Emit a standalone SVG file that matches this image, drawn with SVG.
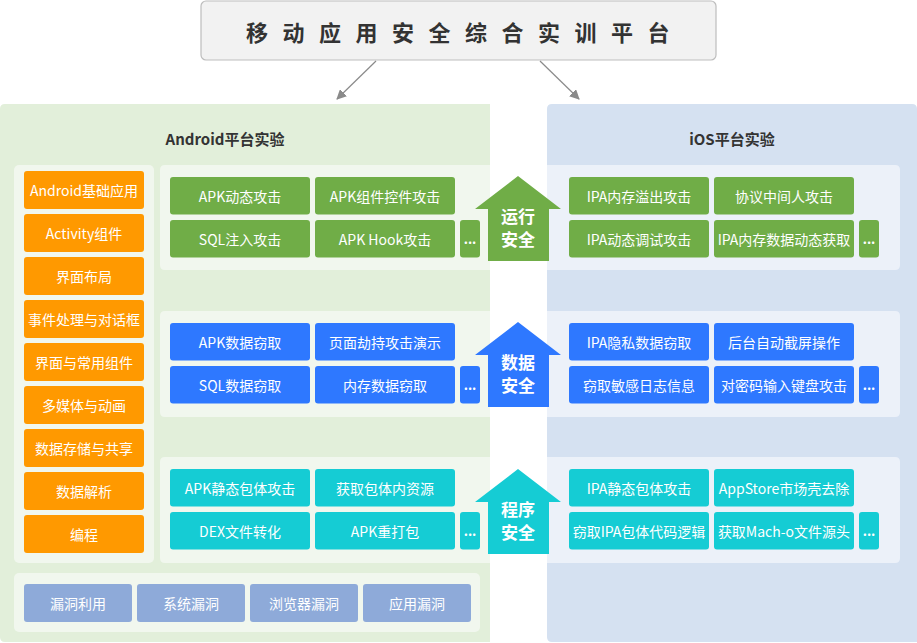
<svg xmlns="http://www.w3.org/2000/svg" width="917" height="643" viewBox="0 0 917 643">
<defs>
<marker id="ah" markerWidth="10" markerHeight="10" refX="9" refY="5" orient="auto" markerUnits="userSpaceOnUse">
<path d="M0,0 L10,5 L0,10 z" fill="#8a8a8a"/>
</marker>
<style>
text{font-family:"Microsoft YaHei","Noto Sans CJK SC","Noto Sans",sans-serif;}
.t{fill:#fff;font-size:14px;text-anchor:middle;dominant-baseline:central;}
.d{fill:#fff;font-size:13px;font-weight:bold;text-anchor:middle;}
.al{fill:#fff;font-size:17px;font-weight:bold;text-anchor:middle;dominant-baseline:central;}
.h{fill:#333;font-size:15px;font-weight:bold;text-anchor:middle;dominant-baseline:central;}
.or{fill:#ff9900;}
.gr{fill:#70ad47;}
.bl{fill:#2e78ff;}
.cy{fill:#15ccd4;}
.vu{fill:#8eaad9;}
.ain{fill:#f1f7ee;}
.iin{fill:#ecf1f9;}
</style>
</defs>
<rect width="917" height="643" fill="#fff"/>

<g id="title">
<rect x="201" y="1" width="515" height="59" rx="5" fill="#f2f2f2" stroke="#bdbdbd" stroke-width="1.2"/>
<text x="465" y="31" style="fill:#333;font-size:22px;font-weight:bold;text-anchor:middle;dominant-baseline:central;letter-spacing:14.5px">移动应用安全综合实训平台</text>
</g>

<g id="connectors" stroke="#8a8a8a" stroke-width="1.2" fill="none">
<line x1="376" y1="61" x2="337" y2="99" marker-end="url(#ah)"/>
<line x1="540" y1="61" x2="579" y2="99" marker-end="url(#ah)"/>
</g>

<g id="android">
<path d="M5,104 H490 V642 H5 Q0,642 0,637 V109 Q0,104 5,104 z" fill="#e2efda"/>
<text class="h" x="225" y="138">Android平台实验</text>
<rect class="ain" x="14" y="165" width="140" height="398" rx="5"/>
<path class="ain" d="M165,165 H490 V270 H165 Q160,270 160,265 V170 Q160,165 165,165 z"/>
<path class="ain" d="M165,311 H490 V417 H165 Q160,417 160,412 V316 Q160,311 165,311 z"/>
<path class="ain" d="M165,457 H490 V563 H165 Q160,563 160,558 V462 Q160,457 165,457 z"/>
<rect class="ain" x="14" y="573" width="466" height="59" rx="5"/>
</g>

<g id="ios">
<path d="M552,104 H912 Q917,104 917,109 V642 H552 Q547,642 547,637 V109 Q547,104 552,104 z" fill="#d5e1f1"/>
<text class="h" x="732" y="138">iOS平台实验</text>
<path class="iin" d="M547,165 H895 Q900,165 900,170 V265 Q900,270 895,270 H547 z"/>
<path class="iin" d="M547,311 H895 Q900,311 900,316 V412 Q900,417 895,417 H547 z"/>
<path class="iin" d="M547,457 H895 Q900,457 900,462 V558 Q900,563 895,563 H547 z"/>
</g>

<g id="basics">
<rect class="or" x="24" y="171" width="120" height="38" rx="3"/><text class="t" x="84" y="190">Android基础应用</text>
<rect class="or" x="24" y="214" width="120" height="38" rx="3"/><text class="t" x="84" y="233">Activity组件</text>
<rect class="or" x="24" y="257" width="120" height="38" rx="3"/><text class="t" x="84" y="276">界面布局</text>
<rect class="or" x="24" y="300" width="120" height="38" rx="3"/><text class="t" x="84" y="319">事件处理与对话框</text>
<rect class="or" x="24" y="343" width="120" height="38" rx="3"/><text class="t" x="84" y="362">界面与常用组件</text>
<rect class="or" x="24" y="386" width="120" height="38" rx="3"/><text class="t" x="84" y="405">多媒体与动画</text>
<rect class="or" x="24" y="429" width="120" height="38" rx="3"/><text class="t" x="84" y="448">数据存储与共享</text>
<rect class="or" x="24" y="472" width="120" height="38" rx="3"/><text class="t" x="84" y="491">数据解析</text>
<rect class="or" x="24" y="515" width="120" height="38" rx="3"/><text class="t" x="84" y="534">编程</text>
</g>

<g id="vulns">
<rect class="vu" x="24" y="584" width="108" height="38" rx="3"/><text class="t" x="78" y="603">漏洞利用</text>
<rect class="vu" x="137" y="584" width="108" height="38" rx="3"/><text class="t" x="191" y="603">系统漏洞</text>
<rect class="vu" x="250" y="584" width="108" height="38" rx="3"/><text class="t" x="304" y="603">浏览器漏洞</text>
<rect class="vu" x="363" y="584" width="108" height="38" rx="3"/><text class="t" x="417" y="603">应用漏洞</text>
</g>

<g id="run-android">
<rect class="gr" x="170" y="177" width="140" height="37.5" rx="3"/><text class="t" x="240" y="196">APK动态攻击</text>
<rect class="gr" x="315" y="177" width="140" height="37.5" rx="3"/><text class="t" x="385" y="196">APK组件控件攻击</text>
<rect class="gr" x="170" y="220" width="140" height="37.5" rx="3"/><text class="t" x="240" y="239">SQL注入攻击</text>
<rect class="gr" x="315" y="220" width="140" height="37.5" rx="3"/><text class="t" x="385" y="239">APK Hook攻击</text>
<rect class="gr" x="460" y="220" width="20" height="37.5" rx="3"/><text class="d" x="470" y="244">...</text>
</g>
<g id="run-ios">
<rect class="gr" x="569" y="177" width="140" height="37.5" rx="3"/><text class="t" x="639" y="196">IPA内存溢出攻击</text>
<rect class="gr" x="714" y="177" width="140" height="37.5" rx="3"/><text class="t" x="784" y="196">协议中间人攻击</text>
<rect class="gr" x="569" y="220" width="140" height="37.5" rx="3"/><text class="t" x="639" y="239">IPA动态调试攻击</text>
<rect class="gr" x="714" y="220" width="140" height="37.5" rx="3"/><text class="t" x="784" y="239">IPA内存数据动态获取</text>
<rect class="gr" x="859" y="220" width="20" height="37.5" rx="3"/><text class="d" x="869" y="244">...</text>
</g>
<g id="run-arrow">
<path class="gr" d="M518,176 L561,209 H549 V261 H488 V209 H475 z"/>
<text class="al" x="518" y="215">运行</text>
<text class="al" x="518" y="238">安全</text>
</g>

<g id="data-android">
<rect class="bl" x="170" y="323" width="140" height="37.5" rx="3"/><text class="t" x="240" y="342">APK数据窃取</text>
<rect class="bl" x="315" y="323" width="140" height="37.5" rx="3"/><text class="t" x="385" y="342">页面劫持攻击演示</text>
<rect class="bl" x="170" y="366" width="140" height="37.5" rx="3"/><text class="t" x="240" y="385">SQL数据窃取</text>
<rect class="bl" x="315" y="366" width="140" height="37.5" rx="3"/><text class="t" x="385" y="385">内存数据窃取</text>
<rect class="bl" x="460" y="366" width="20" height="37.5" rx="3"/><text class="d" x="470" y="390">...</text>
</g>
<g id="data-ios">
<rect class="bl" x="569" y="323" width="140" height="37.5" rx="3"/><text class="t" x="639" y="342">IPA隐私数据窃取</text>
<rect class="bl" x="714" y="323" width="140" height="37.5" rx="3"/><text class="t" x="784" y="342">后台自动截屏操作</text>
<rect class="bl" x="569" y="366" width="140" height="37.5" rx="3"/><text class="t" x="639" y="385">窃取敏感日志信息</text>
<rect class="bl" x="714" y="366" width="140" height="37.5" rx="3"/><text class="t" x="784" y="385">对密码输入键盘攻击</text>
<rect class="bl" x="859" y="366" width="20" height="37.5" rx="3"/><text class="d" x="869" y="390">...</text>
</g>
<g id="data-arrow">
<path class="bl" d="M518,322 L561,355 H549 V407 H488 V355 H475 z"/>
<text class="al" x="518" y="361">数据</text>
<text class="al" x="518" y="384">安全</text>
</g>

<g id="prog-android">
<rect class="cy" x="170" y="469" width="140" height="37.5" rx="3"/><text class="t" x="240" y="488">APK静态包体攻击</text>
<rect class="cy" x="315" y="469" width="140" height="37.5" rx="3"/><text class="t" x="385" y="488">获取包体内资源</text>
<rect class="cy" x="170" y="512" width="140" height="37.5" rx="3"/><text class="t" x="240" y="531">DEX文件转化</text>
<rect class="cy" x="315" y="512" width="140" height="37.5" rx="3"/><text class="t" x="385" y="531">APK重打包</text>
<rect class="cy" x="460" y="512" width="20" height="37.5" rx="3"/><text class="d" x="470" y="536">...</text>
</g>
<g id="prog-ios">
<rect class="cy" x="569" y="469" width="140" height="37.5" rx="3"/><text class="t" x="639" y="488">IPA静态包体攻击</text>
<rect class="cy" x="714" y="469" width="140" height="37.5" rx="3"/><text class="t" x="784" y="488">AppStore市场壳去除</text>
<rect class="cy" x="569" y="512" width="140" height="37.5" rx="3"/><text class="t" x="639" y="531">窃取IPA包体代码逻辑</text>
<rect class="cy" x="714" y="512" width="140" height="37.5" rx="3"/><text class="t" x="784" y="531">获取Mach-o文件源头</text>
<rect class="cy" x="859" y="512" width="20" height="37.5" rx="3"/><text class="d" x="869" y="536">...</text>
</g>
<g id="prog-arrow">
<path class="cy" d="M518,469 L561,502 H549 V554 H488 V502 H475 z"/>
<text class="al" x="518" y="508">程序</text>
<text class="al" x="518" y="531">安全</text>
</g>
</svg>
